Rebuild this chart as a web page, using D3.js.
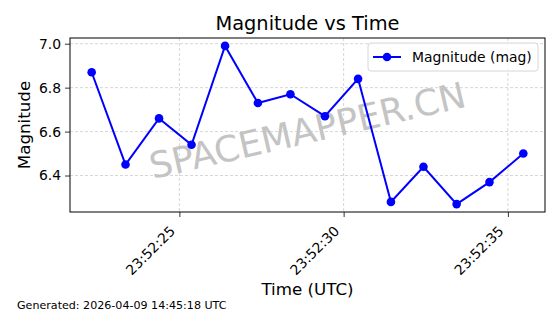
<!DOCTYPE html>
<html>
<head>
<meta charset="utf-8">
<script src="https://cdn.jsdelivr.net/npm/d3@7"></script>
<style>
  body { margin: 0; background: #fff; }
  text { font-family: 'DejaVu Sans', sans-serif; }
</style>
</head>
<body>
<div id="main"></div>
<script>
const w = 560, h = 314
const margin = {left: 70, right: 15, top: 38, bottom: 102}

// seconds after 23:52:00 UTC
const times = [22.33, 23.36, 24.38, 25.37, 26.39, 27.39, 28.38, 29.43, 30.44, 31.44, 32.43, 33.44, 34.44, 35.47]
const mags = [6.87, 6.45, 6.66, 6.54, 6.99, 6.73, 6.77, 6.67, 6.84, 6.28, 6.44, 6.27, 6.37, 6.50]
const xTicks = [25, 30, 35]
const yTicks = [6.4, 6.6, 6.8, 7.0]

const base = Date.UTC(2026, 3, 8, 23, 52, 0)
const toDate = s => new Date(base + s * 1000)
const data = times.map((t, i) => ({t: toDate(t), v: mags[i]}))

const svg = d3.select('#main')
    .append('svg')
    .attr('width', w)
    .attr('height', h)

const x = d3.scaleUtc()
    .domain([toDate(21.67), toDate(36.13)])
    .range([margin.left, w - margin.right])

const y = d3.scaleLinear()
    .domain([6.234, 7.026])
    .range([h - margin.bottom, margin.top])

const fmt = d3.utcFormat('%H:%M:%S')

// grid
svg.append('g')
    .selectAll('line')
    .data(xTicks)
    .enter()
    .append('line')
    .attr('x1', d => x(toDate(d)))
    .attr('x2', d => x(toDate(d)))
    .attr('y1', margin.top)
    .attr('y2', h - margin.bottom)
    .attr('stroke', '#cccccc')
    .attr('stroke-width', 0.8)
    .attr('stroke-dasharray', '3,2')

svg.append('g')
    .selectAll('line')
    .data(yTicks)
    .enter()
    .append('line')
    .attr('x1', margin.left)
    .attr('x2', w - margin.right)
    .attr('y1', d => y(d))
    .attr('y2', d => y(d))
    .attr('stroke', '#cccccc')
    .attr('stroke-width', 0.8)
    .attr('stroke-dasharray', '3,2')

// watermark
svg.append('text')
    .text('SPACEMAPPER.CN')
    .attr('transform', 'translate(308,133) rotate(-13)')
    .attr('text-anchor', 'middle')
    .attr('dominant-baseline', 'middle')
    .attr('fill', '#c4c4c4')
    .style('font-size', '36px')

// axes
const xAxis = d3.axisBottom(x)
    .tickValues(xTicks.map(toDate))
    .tickFormat(fmt)
    .tickSize(5)
    .tickPadding(4)

const gx = svg.append('g')
    .attr('transform', 'translate(0,' + (h - margin.bottom) + ')')
    .call(xAxis)
gx.select('.domain').remove()
gx.selectAll('text')
    .style('font-size', '13.9px')
    .attr('fill', '#000')
    .attr('text-anchor', 'end')
    .attr('dy', 0)
    .attr('y', 0)
    .attr('transform', 'translate(-4,20) rotate(-45)')

const yAxis = d3.axisLeft(y)
    .tickValues(yTicks)
    .tickFormat(d3.format('.1f'))
    .tickSize(5)
    .tickPadding(4)

const gy = svg.append('g')
    .attr('transform', 'translate(' + margin.left + ',0)')
    .call(yAxis)
gy.select('.domain').remove()
gy.selectAll('text')
    .style('font-size', '13.9px')
    .attr('fill', '#000')

svg.selectAll('.tick line').attr('stroke', '#000').attr('stroke-width', 0.8)

// frame
svg.append('rect')
    .attr('x', margin.left)
    .attr('y', margin.top)
    .attr('width', w - margin.left - margin.right)
    .attr('height', h - margin.top - margin.bottom)
    .attr('fill', 'none')
    .attr('stroke', '#000')
    .attr('stroke-width', 1)

// series
const line = d3.line()
    .x(d => x(d.t))
    .y(d => y(d.v))

svg.append('path')
    .datum(data)
    .attr('d', line)
    .attr('fill', 'none')
    .attr('stroke', '#0000ff')
    .attr('stroke-width', 2)

svg.selectAll('circle.dot')
    .data(data)
    .enter()
    .append('circle')
    .attr('class', 'dot')
    .attr('cx', d => x(d.t))
    .attr('cy', d => y(d.v))
    .attr('r', 4.3)
    .attr('fill', '#0000ff')

// legend
const legend = svg.append('g')
legend.append('rect')
    .attr('x', 368)
    .attr('y', 43)
    .attr('width', 170)
    .attr('height', 28)
    .attr('rx', 3)
    .attr('fill', '#fff')
    .attr('fill-opacity', 0.8)
    .attr('stroke', '#d6d6d6')
legend.append('line')
    .attr('x1', 373)
    .attr('x2', 401)
    .attr('y1', 57)
    .attr('y2', 57)
    .attr('stroke', '#0000ff')
    .attr('stroke-width', 2)
legend.append('circle')
    .attr('cx', 387)
    .attr('cy', 57)
    .attr('r', 4.3)
    .attr('fill', '#0000ff')
legend.append('text')
    .text('Magnitude (mag)')
    .attr('x', 412)
    .attr('y', 62)
    .style('font-size', '13.9px')

// titles
svg.append('text')
    .text('Magnitude vs Time')
    .attr('x', (margin.left + w - margin.right) / 2)
    .attr('y', 30)
    .attr('text-anchor', 'middle')
    .style('font-size', '19.4px')

svg.append('text')
    .text('Time (UTC)')
    .attr('x', (margin.left + w - margin.right) / 2)
    .attr('y', 295)
    .attr('text-anchor', 'middle')
    .style('font-size', '16.7px')

svg.append('text')
    .text('Magnitude')
    .attr('transform', 'translate(30,' + ((margin.top + h - margin.bottom) / 2) + ') rotate(-90)')
    .attr('text-anchor', 'middle')
    .style('font-size', '16.7px')

svg.append('text')
    .text('Generated: 2026-04-09 14:45:18 UTC')
    .attr('x', 17)
    .attr('y', 309)
    .style('font-size', '11.1px')
</script>
</body>
</html>
